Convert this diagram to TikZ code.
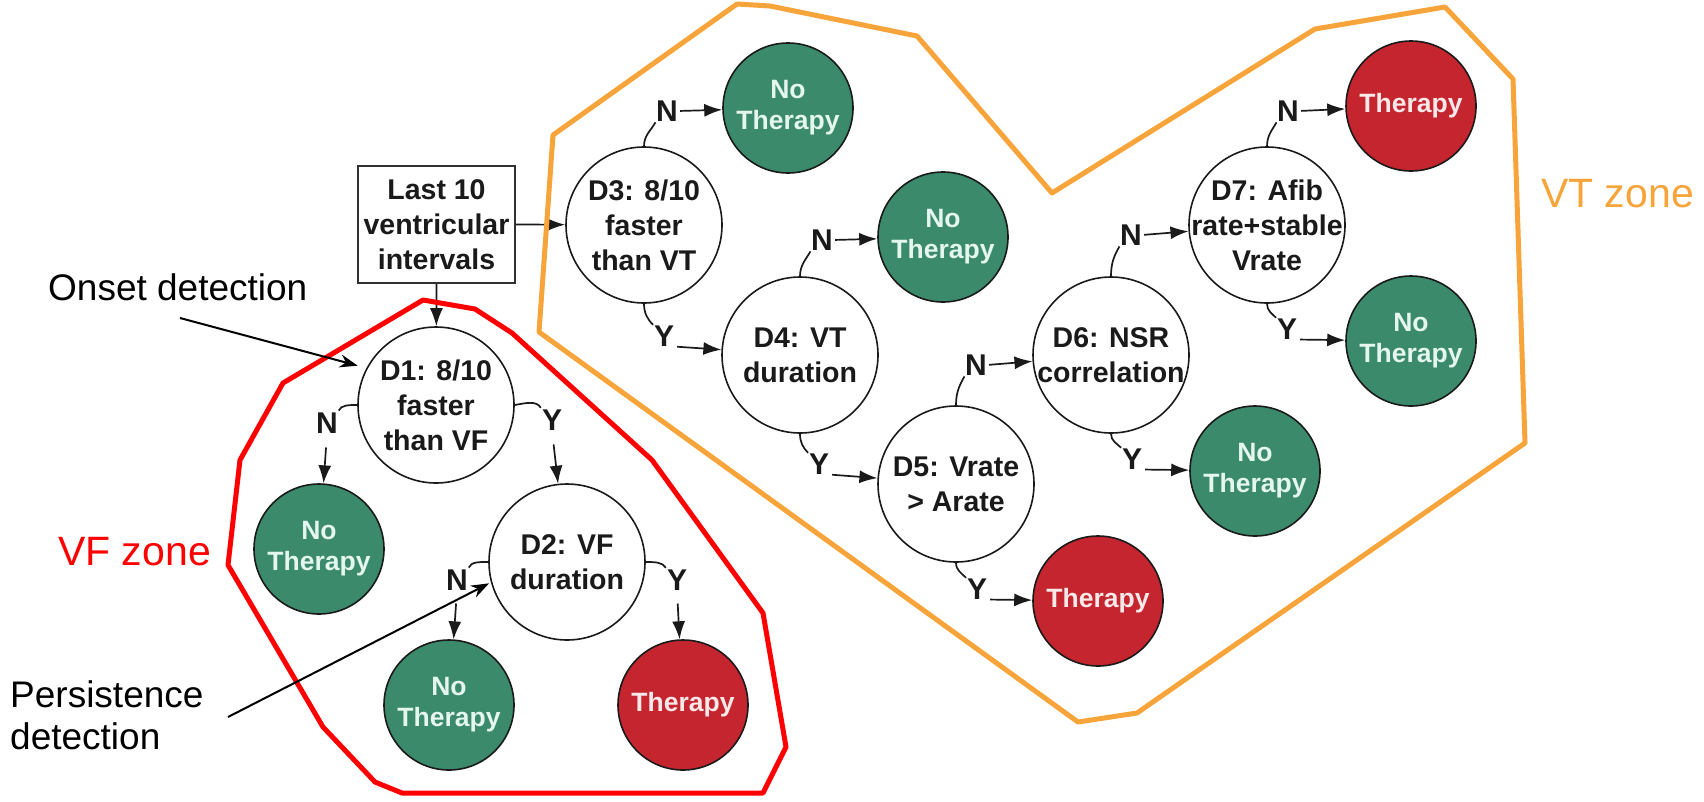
\documentclass[tikz,border=0pt]{standalone}
\usepackage{fontspec}
\setmainfont{Liberation Sans}
\usetikzlibrary{arrows.meta}
\definecolor{vtorange}{HTML}{F7A43B}
\definecolor{ntgreen}{HTML}{3B8A6C}
\definecolor{thred}{HTML}{C4252F}
\definecolor{ntext}{HTML}{E4F6EE}
\definecolor{ttext}{HTML}{FBE9E9}
\definecolor{ink}{HTML}{1A1A1A}
\begin{document}
\begin{tikzpicture}[x=1pt,y=1pt,
  dtext/.style={align=center,inner sep=0pt,text=ink,font=\fontsize{28.5}{35}\selectfont\bfseries},
  decision/.style={circle,draw=ink,line width=1.6pt,fill=white,minimum size=156pt,inner sep=0pt,
    label={[dtext]center:{#1}}},
  notherapy/.style={circle,draw=ink,line width=1.6pt,fill=ntgreen,minimum size=130pt,inner sep=0pt,
    align=center,text=ntext,font=\fontsize{26.5}{31}\selectfont\bfseries},
  therapy/.style={notherapy,fill=thred,text=ttext},
  startbox/.style={rectangle,draw=ink!90,line width=2pt,fill=white,minimum width=157pt,minimum height=117pt,
    inner sep=0pt,align=center,text=ink,font=\fontsize{28.5}{35}\selectfont\bfseries},
  yn/.style={inner sep=0pt,text=ink,font=\fontsize{30}{30}\selectfont\bfseries},
  link/.style={line width=1.7pt,draw=ink},
  arr/.style={link,-{Latex[length=18pt,width=13pt]}},
  zone/.style={line width=5pt,line join=round},
  note/.style={inner sep=0pt,font=\fontsize{37}{43}\selectfont},
  notearr/.style={line width=2pt,draw=black,-{Stealth[length=18pt,width=13pt]}},
  zonelabel/.style={inner sep=0pt,font=\fontsize{41}{45}\selectfont},
]
\useasboundingbox (0,0) rectangle (1704,-801);

% start box and decisions
\node[startbox] (box) at (436.5,-224.5) {Last 10\\ventricular\\intervals};
\node[decision={D1: 8/10\\faster\\than VF}] (D1) at (436,-405) {};
\node[decision={D2: VF\\duration}] (D2) at (567,-562) {};
\node[decision={D3: 8/10\\faster\\than VT}] (D3) at (644,-225) {};
\node[decision={D4: VT\\duration}] (D4) at (800,-355) {};
\node[decision={D5: Vrate\\> Arate}] (D5) at (956,-484) {};
\node[decision={D6: NSR\\correlation}] (D6) at (1111,-355) {};
\node[decision={D7: Afib\\rate+stable\\Vrate}] (D7) at (1267,-225) {};

% outcomes
\node[notherapy] (NT1) at (319,-549) {No\\Therapy};
\node[notherapy] (NT2) at (449,-705) {No\\Therapy};
\node[therapy]   (T2)  at (683,-705) {Therapy};
\node[notherapy] (NT3) at (788,-108) {No\\Therapy};
\node[notherapy] (NT4) at (943,-237) {No\\Therapy};
\node[therapy]   (T5)  at (1098,-601) {Therapy};
\node[notherapy] (NT6) at (1255,-471) {No\\Therapy};
\node[therapy]   (T7)  at (1411,-106) {Therapy};
\node[notherapy] (NT7) at (1411,-341) {No\\Therapy};

% Y/N labels
\node[yn] (n1) at (327,-423) {N};
\node[yn] (y1) at (552,-420) {Y};
\node[yn] (n2) at (457,-580) {N};
\node[yn] (y2) at (677,-580) {Y};
\node[yn] (n3) at (667,-111) {N};
\node[yn] (y3) at (664,-336) {Y};
\node[yn] (n4) at (822,-240) {N};
\node[yn] (y4) at (819,-464) {Y};
\node[yn] (n5) at (976,-365) {N};
\node[yn] (y5) at (977,-589) {Y};
\node[yn] (n6) at (1131,-235) {N};
\node[yn] (y6) at (1132,-459) {Y};
\node[yn] (n7) at (1288,-111) {N};
\node[yn] (y7) at (1287,-329) {Y};

% connectors
\draw[arr] (box.east) -- (D3);
\draw[arr] (box.south) -- (D1);

\draw[link,shorten >=2pt] (D1.west) to[out=180,in=70] (n1.north east);
\draw[arr,shorten <=14pt] (n1.south) -- (NT1);
\draw[link,shorten >=2pt] (D1.east) to[out=10,in=120] (y1.north west);
\draw[arr,shorten <=14pt] (y1.south) -- (D2);
\draw[link,shorten >=2pt] (D2.west) to[out=180,in=70] (n2.north east);
\draw[arr,shorten <=13pt] (n2.south) -- (NT2);
\draw[link,shorten >=2pt] (D2.east) to[out=0,in=120] (y2.north west);
\draw[arr,shorten <=13pt] (y2.south) -- (T2);

\draw[link,shorten >=1pt] (D3.north) to[out=90,in=240] (n3.south west);
\draw[arr,shorten <=2pt] (n3.east) -- (NT3);
\draw[link,shorten >=1pt] (D3.south) to[out=-90,in=135] (y3.north west);
\draw[arr,shorten <=3pt] (y3.south east) -- (D4);

\draw[link,shorten >=1pt] (D4.north) to[out=90,in=240] (n4.south west);
\draw[arr,shorten <=2pt] (n4.east) -- (NT4);
\draw[link,shorten >=1pt] (D4.south) to[out=-90,in=135] (y4.north west);
\draw[arr,shorten <=3pt] (y4.south east) -- (D5);

\draw[link,shorten >=1pt] (D5.north) to[out=90,in=240] (n5.south west);
\draw[arr,shorten <=2pt] (n5.east) -- (D6);
\draw[link,shorten >=1pt] (D5.south) to[out=-90,in=135] (y5.north west);
\draw[arr,shorten <=3pt] (y5.south east) -- (T5);

\draw[link,shorten >=1pt] (D6.north) to[out=90,in=240] (n6.south west);
\draw[arr,shorten <=2pt] (n6.east) -- (D7);
\draw[link,shorten >=1pt] (D6.south) to[out=-90,in=135] (y6.north west);
\draw[arr,shorten <=3pt] (y6.south east) -- (NT6);

\draw[link,shorten >=1pt] (D7.north) to[out=90,in=240] (n7.south west);
\draw[arr,shorten <=2pt] (n7.east) -- (T7);
\draw[link,shorten >=1pt] (D7.south) to[out=-90,in=135] (y7.north west);
\draw[arr,shorten <=3pt] (y7.south east) -- (NT7);

% zones
\draw[zone,draw=vtorange] (539,-332) -- (553,-135) -- (737,-4) -- (770,-6) -- (917,-36)
  -- (1052,-193) -- (1315,-29) -- (1445,-7) -- (1513,-79) -- (1525,-443)
  -- (1137,-713) -- (1078,-722) -- cycle;
\draw[zone,draw=red] (423,-300) -- (475,-309) -- (512,-333) -- (652,-460) -- (763,-613)
  -- (786,-747) -- (763,-793) -- (402,-793) -- (375,-782) -- (323,-727)
  -- (228,-565) -- (240,-460) -- (283,-383) -- cycle;

\node[zonelabel,text=red,anchor=base west] (vflbl) at (58,-565) {VF zone};
\node[zonelabel,text=vtorange,anchor=base west] (vtlbl) at (1541,-207) {VT zone};

% annotations
\node[note,anchor=base west] (onset) at (48,-300) {Onset detection};
\node[note,anchor=base west] (pers1) at (10,-707) {Persistence};
\node[note,anchor=base west] (pers2) at (10,-749) {detection};
\coordinate (onsetS) at (180,-318);
\coordinate (persS) at (228,-717);
\draw[notearr,shorten >=9pt] (onsetS) -- (D1.152);
\draw[notearr,shorten >=2pt] (persS) -- (D2.195);
\end{tikzpicture}
\end{document}
